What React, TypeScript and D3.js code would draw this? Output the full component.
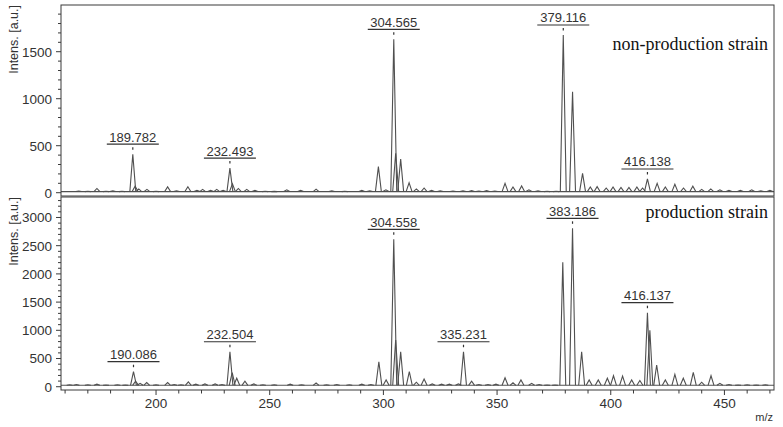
import React from "react";
import * as d3 from "d3";

const W = 783;
const H = 427;
const LEFT = 61;
const RIGHT = 774;

// m/z axis
const mzDomain: [number, number] = [158.2, 471.8];
const xMajorTicks = [200, 250, 300, 350, 400, 450];
const xMinorTicks = [160, 170, 180, 190, 210, 220, 230, 240, 260, 270, 280, 290, 310, 320, 330, 340, 360, 370, 380, 390, 410, 420, 430, 440, 460, 470];

// intensity axes
const topYTicks = [0, 500, 1000, 1500];
const bottomYTicks = [0, 500, 1000, 1500, 2000, 2500, 3000];

// non-production strain: labelled peaks [m/z, intensity]
const topLabelled: [number, number][] = [
  [189.782, 410],
  [232.493, 262],
  [304.565, 1632],
  [379.116, 1678],
  [416.138, 146],
];
// non-production strain: other peaks
const topPeaks: [number, number][] = [
  [166, 18], [170, 15], [174, 45], [178, 15], [181, 20], [185, 15],
  [190.8, 70], [192.4, 40], [196, 35], [200, 15], [205.1, 62], [209, 20],
  [214, 64], [218, 25], [220.5, 35], [224, 25], [226.7, 35], [229.5, 25],
  [233.6, 95], [236.2, 45], [239.9, 35], [243.5, 25], [248, 15], [252, 14],
  [257.5, 30], [263.6, 25], [270.4, 38], [277.3, 20], [283, 16], [290.5, 25],
  [294, 20], [297.8, 277], [301.1, 30], [305.4, 420], [307.6, 358], [311.3, 106],
  [314.5, 40], [317.9, 50], [321.2, 25], [325, 20], [330.6, 18], [335, 20],
  [338.8, 22], [342, 18], [345.4, 22], [349, 18], [353.5, 100], [357, 60],
  [360.8, 72], [364, 30], [368, 20], [372, 15], [376, 15], [383.2, 1074],
  [387.6, 206], [391, 60], [394, 65], [398, 50], [401, 60], [404.5, 55],
  [408, 55], [411.5, 60], [414, 50], [420.4, 100], [424, 60], [428.2, 90],
  [432, 50], [436.1, 70], [440, 35], [444, 40], [448, 30], [452, 25],
  [457, 25], [462, 30], [466, 20], [470, 25],
];

// production strain: labelled peaks
const bottomLabelled: [number, number][] = [
  [190.086, 266],
  [232.504, 620],
  [304.558, 2613],
  [335.231, 620],
  [383.186, 2808],
  [416.137, 1312],
];
// production strain: other peaks
const bottomPeaks: [number, number][] = [
  [162, 35], [165, 40], [170, 35], [174, 45], [178, 30], [183, 35], [186.5, 30],
  [191, 100], [193, 60], [195.9, 75], [200, 35], [205.1, 75], [208, 40],
  [211, 35], [214.2, 85], [217.5, 45], [221.5, 50], [226, 50], [229, 40],
  [233.5, 250], [235.5, 150], [239.1, 100], [243, 50], [247, 35], [252, 35],
  [259, 45], [264, 35], [270.4, 65], [275, 35], [279.5, 40], [285, 35],
  [290.5, 45], [294.5, 40], [298, 443], [301.2, 120], [305.4, 828], [307.6, 620],
  [311.4, 266], [314.5, 80], [317.9, 136], [321.5, 50], [325.6, 45], [329, 45],
  [333, 50], [338.8, 100], [342, 40], [346, 40], [349.5, 45], [353.5, 160],
  [357, 70], [360.5, 120], [365.2, 60], [368.5, 40], [372, 30], [375.5, 30],
  [378.9, 2206], [387.2, 620], [390.5, 120], [394.5, 120], [398.5, 150],
  [401.2, 195], [405.2, 190], [409.2, 120], [412.8, 110], [417.2, 1000],
  [420.2, 385], [424, 120], [428.2, 220], [431.9, 150], [436.3, 255], [440, 80],
  [444.1, 195], [448, 60], [452, 40], [456, 30], [460, 35], [464, 30], [468, 35],
];

const x = d3.scaleLinear().domain(mzDomain).range([LEFT, RIGHT]);

const FRAME = "#3a3a3a";
const TRACE = "#505050";
const TEXT = "#333";
const SANS = "'Liberation Sans', Arial, sans-serif";
const SERIF = "'Liberation Serif', 'Times New Roman', serif";
const HALF_W = 1.3;

type PanelProps = {
  id: string;
  top: number;
  bottom: number;
  domain: [number, number];
  base: number;
  peaks: [number, number][];
  labelled: [number, number][];
  yTicks: number[];
  legend: string;
  legendY: number;
};

const Panel = ({ id, top, bottom, domain, base, peaks, labelled, yTicks, legend, legendY }: PanelProps) => {
  const y = d3.scaleLinear().domain(domain).range([bottom, top]);
  const minor = d3.range(0, domain[1], 100).filter((v) => v % 500 !== 0);
  const line = d3
    .line<[number, number]>()
    .x((d) => x(d[0]))
    .y((d) => y(d[1]));
  const spike = (c: number, h: number) =>
    line([
      [c - HALF_W, base],
      [c, h],
      [c + HALF_W, base],
    ]) as string;
  const all = [...peaks, ...labelled];

  return (
    <g>
      <clipPath id={"clip-" + id}>
        <rect x={LEFT} y={top} width={RIGHT - LEFT} height={bottom - top} />
      </clipPath>
      <g clipPath={`url(#clip-${id})`} fill="none" stroke={TRACE} strokeWidth={1.1}>
        <path d={line([[mzDomain[0], base], [mzDomain[1], base]]) as string} />
        {all.map((p, i) => (
          <path key={i} d={spike(p[0], p[1])} />
        ))}
      </g>
      {labelled.map(([mz, h]) => {
        const px = x(mz);
        const py = y(h);
        return (
          <g key={mz}>
            <line x1={px} x2={px} y1={py - 7} y2={py - 4.5} stroke={TEXT} strokeWidth={1.2} />
            <line x1={px - 26} x2={px + 26} y1={py - 10} y2={py - 10} stroke={TEXT} strokeWidth={1.2} />
            <text x={px} y={py - 12.5} textAnchor="middle" fontFamily={SANS} fontSize={13} fill={TEXT}>
              {mz.toFixed(3)}
            </text>
          </g>
        );
      })}
      <rect x={LEFT} y={top} width={RIGHT - LEFT} height={bottom - top} fill="none" stroke={FRAME} strokeWidth={1} />
      {minor.map((v) => (
        <line key={"m" + v} x1={LEFT - 3} x2={LEFT} y1={y(v)} y2={y(v)} stroke={FRAME} />
      ))}
      {yTicks.map((v) => (
        <g key={v}>
          <line x1={LEFT - 5} x2={LEFT} y1={y(v)} y2={y(v)} stroke={FRAME} />
          <text x={52} y={y(v)} dy="0.36em" textAnchor="end" fontFamily={SANS} fontSize={13.5} fill={TEXT}>
            {v}
          </text>
        </g>
      ))}
      <text
        transform={`translate(18,${top}) rotate(-90)`}
        textAnchor="end"
        fontFamily={SANS}
        fontSize={12.5}
        fill={TEXT}
      >
        Intens. [a.u.]
      </text>
      <text x={768} y={legendY} textAnchor="end" fontFamily={SERIF} fontSize={18} fill="#111">
        {legend}
      </text>
    </g>
  );
};

export default function App() {
  const axisY = 390;
  return (
    <svg width={W} height={H} style={{ position: "absolute", left: 0, top: 0, background: "#fff" }}>
      <Panel
        id="top"
        top={5}
        bottom={196}
        domain={[-35, 1997]}
        base={12}
        peaks={topPeaks}
        labelled={topLabelled}
        yTicks={topYTicks}
        legend="non-production strain"
        legendY={50}
      />
      <Panel
        id="bottom"
        top={197}
        bottom={axisY}
        domain={[-58, 3363]}
        base={25}
        peaks={bottomPeaks}
        labelled={bottomLabelled}
        yTicks={bottomYTicks}
        legend="production strain"
        legendY={218}
      />
      {xMinorTicks.map((v) => (
        <line key={"xm" + v} x1={x(v)} x2={x(v)} y1={axisY} y2={axisY + 3.5} stroke={FRAME} />
      ))}
      {xMajorTicks.map((v) => (
        <g key={v}>
          <line x1={x(v)} x2={x(v)} y1={axisY} y2={axisY + 5} stroke={FRAME} />
          <text x={x(v)} y={408} textAnchor="middle" fontFamily={SANS} fontSize={13.5} fill={TEXT}>
            {v}
          </text>
        </g>
      ))}
      <text x={773} y={421} textAnchor="end" fontFamily={SANS} fontSize={11} fill={TEXT}>
        m/z
      </text>
    </svg>
  );
}
